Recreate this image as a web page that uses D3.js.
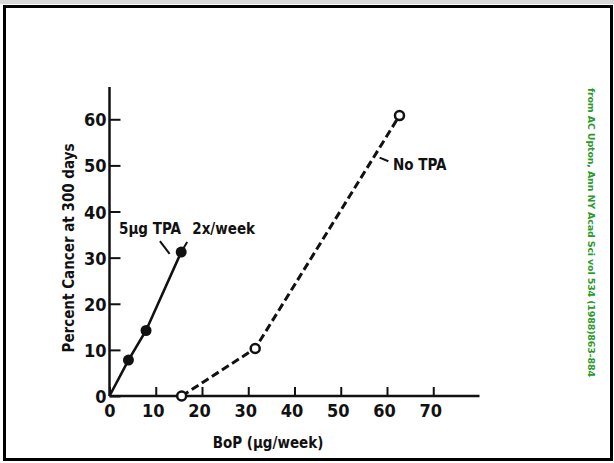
<!DOCTYPE html>
<html>
<head>
<meta charset="utf-8">
<script src="https://cdn.jsdelivr.net/npm/d3@7"></script>
<style>
  body { margin: 0; background: #fff; }
  svg text { font-family: "DejaVu Sans Condensed", "DejaVu Sans", sans-serif; fill: #111; }
</style>
</head>
<body>
<script>
// data (BoP ug/week vs percent cancer at 300 days)
var tpaBop = [0, 4.1, 7.9, 15.5];
var tpaPct = [0, 7.8, 14.2, 31.2];
var noTpaBop = [15.6, 31.5, 62.7];
var noTpaPct = [0, 10.3, 60.8];
var xTicks = [0, 10, 20, 30, 40, 50, 60, 70];
var yTicks = [0, 10, 20, 30, 40, 50, 60];

var width = 614, height = 463;

var svg = d3.select("body").append("svg")
	.attr("width", width)
	.attr("height", height);

// page frame
svg.append("rect").attr("x", 0).attr("y", 0).attr("width", width).attr("height", 4).attr("fill", "#d8d8d8");
svg.append("rect")
	.attr("x", 4.5).attr("y", 6.5)
	.attr("width", 607).attr("height", 453)
	.attr("fill", "none").attr("stroke", "#000").attr("stroke-width", 3);

var x = d3.scaleLinear().domain([0, 80]).range([109.5, 479.5]);
var y = d3.scaleLinear().domain([0, 67]).range([396, 87]);

// axes
var xAxis = d3.axisBottom(x).tickValues(xTicks).tickSize(-9).tickPadding(8).tickFormat(d3.format("d"));
var yAxis = d3.axisLeft(y).tickValues(yTicks).tickSize(-11).tickPadding(3).tickFormat(d3.format("d"));

var gx = svg.append("g").attr("transform", "translate(0," + y(0) + ")").call(xAxis);
var gy = svg.append("g").attr("transform", "translate(" + x(0) + ",0)").call(yAxis);

[gx, gy].forEach(function(g) {
	g.select(".domain").remove();
	g.selectAll(".tick line").attr("stroke", "#111").attr("stroke-width", 2);
	g.selectAll(".tick text").style("font-size", "18px").style("font-weight", "bold").attr("fill", "#111");
});
gx.selectAll(".tick text").attr("dx", function(d) { return d === 0 ? 0 : -3; });
gy.selectAll(".tick text").attr("dy", "0.36em");

// axis lines, drawn past the last tick like the original
svg.append("line")
	.attr("x1", x(0)).attr("x2", x(80)).attr("y1", y(0)).attr("y2", y(0))
	.attr("stroke", "#111").attr("stroke-width", 2.5);
svg.append("line")
	.attr("x1", x(0)).attr("x2", x(0)).attr("y1", y(0)).attr("y2", y(67))
	.attr("stroke", "#111").attr("stroke-width", 2.5);

// axis titles
svg.append("text")
	.attr("x", 268).attr("y", 448)
	.attr("text-anchor", "middle")
	.attr("font-size", 15).attr("font-weight", "bold")
	.text("BoP (\u03bcg/week)");

svg.append("text")
	.attr("transform", "translate(74,248) rotate(-90)")
	.attr("text-anchor", "middle")
	.attr("font-size", 15).attr("font-weight", "bold")
	.text("Percent Cancer at 300 days");

var line = d3.line()
	.x(function(d) { return x(d[0]); })
	.y(function(d) { return y(d[1]); });

var tpaData = tpaBop.map(function(v, i) { return [v, tpaPct[i]]; });
var noTpaData = noTpaBop.map(function(v, i) { return [v, noTpaPct[i]]; });

// 5ug TPA series, solid
svg.append("path")
	.datum(tpaData)
	.attr("d", line)
	.attr("fill", "none").attr("stroke", "#111").attr("stroke-width", 2.6);

// No TPA series, dashed
svg.append("path")
	.datum(noTpaData)
	.attr("d", line)
	.attr("fill", "none").attr("stroke", "#111").attr("stroke-width", 3)
	.attr("stroke-dasharray", "8,4");

svg.selectAll("circle.tpa")
	.data(tpaData.slice(1))
	.enter().append("circle")
	.attr("class", "tpa")
	.attr("cx", function(d) { return x(d[0]); })
	.attr("cy", function(d) { return y(d[1]); })
	.attr("r", 5.5)
	.attr("fill", "#111");

svg.selectAll("circle.notpa")
	.data(noTpaData)
	.enter().append("circle")
	.attr("class", "notpa")
	.attr("cx", function(d) { return x(d[0]); })
	.attr("cy", function(d) { return y(d[1]); })
	.attr("r", 4.5)
	.attr("fill", "#fff").attr("stroke", "#111").attr("stroke-width", 2.5);

// labels with their leader strokes
svg.append("text")
	.attr("x", 119).attr("y", 234)
	.attr("font-size", 15).attr("font-weight", "bold")
	.text("5\u03bcg TPA\u2002 2x/week");

var leaders = [
	[[10.9, 33.6], [13.0, 30.8]],   // "\" under TPA
	[[15.5, 31.2], [16.8, 33.4]],   // stub above the last point
	[[58.4, 51.7], [60.3, 50.9]]    // to "No TPA"
];
leaders.forEach(function(seg) {
	svg.append("path")
		.datum(seg)
		.attr("d", line)
		.attr("fill", "none").attr("stroke", "#111").attr("stroke-width", 2);
});

svg.append("text")
	.attr("x", 393).attr("y", 170)
	.attr("font-size", 15).attr("font-weight", "bold")
	.text("No TPA");

// source credit, green, reading downward
svg.append("text")
	.attr("transform", "translate(588,88) rotate(90)")
	.style("font-family", "'DejaVu Sans', sans-serif")
	.style("font-size", "9.5px").style("font-weight", "bold")
	.style("fill", "#2a9a2a")
	.attr("textLength", 289)
	.text("from AC Upton,  Ann NY Acad Sci  vol 534  (1988)863-884");
</script>
</body>
</html>
